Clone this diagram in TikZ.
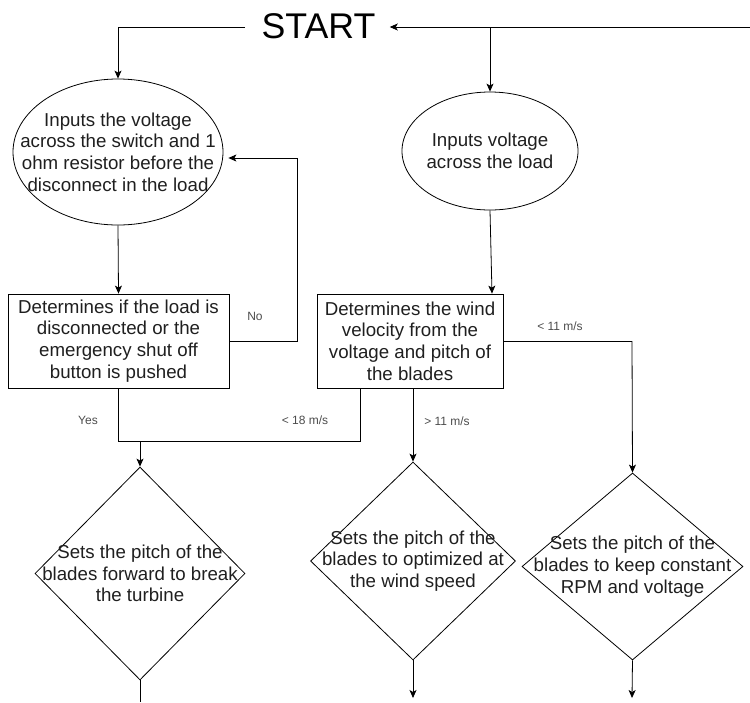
\documentclass[tikz,border=0pt]{standalone}
\usepackage{fontspec}
\setmainfont{Liberation Sans}
\usetikzlibrary{shapes.geometric,arrows.meta}
\begin{document}
\begin{tikzpicture}[x=1pt,y=-1pt,
  line width=0.8pt,
  arr/.style={-{Stealth[length=8pt,width=7pt,inset=2pt]}},
  txt/.style={align=center,text=black!88,inner sep=0pt,font=\fontsize{18.7}{21.7}\selectfont},
  lbl/.style={text=black!70,inner sep=0pt,font=\fontsize{12}{14}\selectfont},
  ell/.style={draw,ellipse,inner sep=0pt},
  boxx/.style={draw,rectangle,inner sep=0pt,minimum height=94},
  dia/.style={draw,diamond,inner sep=0pt}]
\useasboundingbox (0,0) rectangle (750,702);
% nodes
\node[inner sep=0pt,font=\fontsize{35.7}{40}\selectfont] (start) at (318.5,26) {START};
\node[ell,minimum width=210,minimum height=146,
  label={[txt]center:Inputs the voltage\\across the switch and 1\\ohm resistor before the\\disconnect in the load}] (e1) at (118,152) {};
\node[ell,minimum width=176,minimum height=118,
  label={[txt]center:Inputs voltage\\across the load}] (e2) at (490,151) {};
\node[boxx,minimum width=221,
  label={[txt]center:Determines if the load is\\disconnected or the\\emergency shut off\\button is pushed}] (b1) at (118.5,341) {};
\node[boxx,minimum width=186,
  label={[txt]center:Determines the wind\\velocity from the\\voltage and pitch of\\the blades}] (b2) at (410,341) {};
\node[dia,minimum width=210,minimum height=213,
  label={[txt]center:Sets the pitch of the\\blades forward to break\\the turbine}] (d1) at (140,573.5) {};
\node[dia,minimum width=205,minimum height=198,
  label={[txt]center:Sets the pitch of the\\blades to optimized at\\the wind speed}] (d2) at (413,561) {};
\node[dia,minimum width=221,minimum height=187,
  label={[txt]center:Sets the pitch of the\\blades to keep constant\\RPM and voltage}] (d3) at (632.5,566.5) {};
% coordinates
\coordinate (rt) at (750,27);
\coordinate (jn) at (490,27);
\coordinate (fb) at (297,158);
\coordinate (mj) at (360,441);
\coordinate (r11) at (632,341);
\coordinate (o1) at (140,702);
\coordinate (o2) at (413,698);
\coordinate (o3) at (632,698);
% connectors
\draw[arr] ([xshift=-16pt]start.west |- rt) -| (e1.north);
\draw[arr] (rt) -- ([xshift=14pt]start.east |- rt);
\draw[arr] (jn) -- (e2.north);
\draw[arr] (e1.south) -- (b1.north);
\draw[arr] (b1.east) -| (fb) -- ([xshift=5pt]e1.east |- fb);
\draw (b1.south) |- (mj) -- (mj |- b2.south);
\draw[arr] (d1.north |- mj) -- (d1.north);
\draw[arr] (e2.south) -- ([xshift=2pt]e2.south |- b2.north);
\draw[arr] (d2.north |- b2.south) -- (d2.north);
\draw (b2.east) -- (r11);
\draw[arr] (r11) -- (d3.north);
\draw (d1.south) -- (o1);
\draw[arr] (d2.south) -- (o2);
\draw[arr] (d3.south) -- (o3);
% labels
\node[lbl] (lno) at (255,316) {No};
\node[lbl] (lyes) at (88,420) {Yes};
\node[lbl] (l18) at (305,420) {< 18 m/s};
\node[lbl] (lgt11) at (447,421) {> 11 m/s};
\node[lbl] (llt11) at (560,326) {< 11 m/s};
\end{tikzpicture}
\end{document}
